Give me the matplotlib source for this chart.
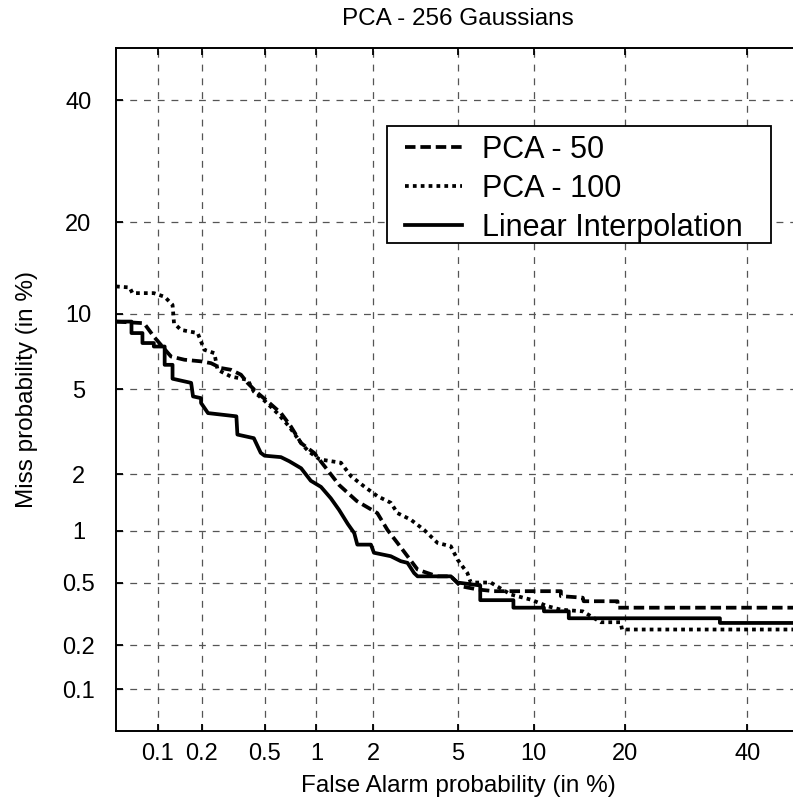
import math
import numpy as np
import matplotlib
matplotlib.use('Agg')
import matplotlib.pyplot as plt
from matplotlib.patches import Rectangle
from matplotlib.ticker import NullLocator

plt.rcParams['font.family'] = ['Liberation Sans', 'DejaVu Sans']

# ---------------- data (percent) ----------------
title = 'PCA - 256 Gaussians'
xlabel = 'False Alarm probability (in %)'
ylabel = 'Miss probability (in %)'
tick_values = [0.1, 0.2, 0.5, 1, 2, 5, 10, 20, 40]
tick_labels = ['0.1', '0.2', '0.5', '1', '2', '5', '10', '20', '40']
axis_limits = [0.05, 50]

series_names = ['PCA - 50', 'PCA - 100', 'Linear Interpolation']

pfa_pca50 = [0.05, 0.08, 0.094, 0.124, 0.153, 0.198, 0.23, 0.267, 0.309, 0.358,
             0.394, 0.454, 0.522, 0.626, 0.715, 0.82, 0.97, 1.15, 1.33, 1.65,
             2.1, 2.36, 2.64, 2.95, 3.29, 3.66, 4.06, 4.65, 5.13, 6.04,
             7.06, 12.5, 12.5, 14.8, 14.9, 19.0, 19.0, 50]
pmiss_pca50 = [9.35, 9.22, 8.2, 6.84, 6.64, 6.54, 6.43, 6.14, 6.04, 5.76,
               5.31, 4.81, 4.42, 3.92, 3.41, 2.84, 2.55, 2.1, 1.76, 1.45,
               1.25, 1.01, 0.854, 0.716, 0.598, 0.57, 0.545, 0.545, 0.475, 0.454,
               0.443, 0.443, 0.413, 0.404, 0.384, 0.384, 0.35, 0.35]

pfa_pca100 = [0.05, 0.063, 0.066, 0.094, 0.112, 0.127, 0.13, 0.145, 0.188, 0.198,
              0.208, 0.242, 0.254, 0.309, 0.394, 0.43, 0.5, 0.6, 0.7, 0.82,
              0.9, 1.04, 1.36, 1.54, 1.80, 2.1, 2.45, 2.64, 3.06, 3.53,
              4.06, 4.65, 4.97, 5.48, 5.66, 6.84, 8.2, 9.76, 11.2, 12.5,
              14.8, 16.9, 19.4, 19.6, 50]
pmiss_pca100 = [12.5, 12.4, 11.85, 11.85, 11.5, 10.77, 9.22, 8.7, 8.46, 7.84,
                7.28, 7.06, 6.04, 5.66, 5.48, 4.88, 4.45, 3.9, 3.4, 2.84,
                2.6, 2.37, 2.28, 1.95, 1.73, 1.54, 1.42, 1.25, 1.15, 1.01,
                0.854, 0.817, 0.685, 0.57, 0.50, 0.50, 0.423, 0.393, 0.358, 0.34,
                0.332, 0.283, 0.283, 0.254, 0.254]

pfa_linear = [0.05, 0.065, 0.065, 0.078, 0.078, 0.094, 0.094, 0.112, 0.112, 0.127,
              0.127, 0.17, 0.175, 0.198, 0.198, 0.22, 0.335, 0.34, 0.43, 0.474,
              0.50, 0.626, 0.70, 0.82, 0.93, 1.06, 1.2, 1.33, 1.48, 1.6,
              1.66, 1.95, 2.02, 2.45, 2.74, 2.95, 3.17, 3.29, 4.65, 4.97,
              6.2, 6.2, 8.4, 8.4, 10.9, 10.9, 13.3, 13.3, 35.0, 35.0, 50]
pmiss_linear = [9.35, 9.35, 8.46, 8.46, 7.74, 7.74, 7.5, 7.5, 6.33, 6.33,
                5.54, 5.32, 4.65, 4.57, 4.35, 3.92, 3.79, 3.12, 3.0, 2.55,
                2.47, 2.43, 2.32, 2.14, 1.85, 1.72, 1.5, 1.3, 1.09, 0.97,
                0.835, 0.835, 0.75, 0.716, 0.67, 0.655, 0.57, 0.545, 0.545, 0.50,
                0.48, 0.39, 0.39, 0.35, 0.35, 0.332, 0.332, 0.30, 0.30, 0.28, 0.28]

# ---------------- normal-deviate (DET) scale ----------------
_A = [-3.969683028665376e+01, 2.209460984245205e+02, -2.759285104469687e+02,
      1.383577518672690e+02, -3.066479806614716e+01, 2.506628277459239e+00]
_B = [-5.447609879822406e+01, 1.615858368580409e+02, -1.556989798598866e+02,
      6.680131188771972e+01, -1.328068155288572e+01]
_C = [-7.784894002430293e-03, -3.223964580411365e-01, -2.400758277161838e+00,
      -2.549732967406918e+00, 4.374664141464968e+00, 2.938163982698783e+00]
_D = [7.784695709041462e-03, 3.224671290700398e-01, 2.445134137142996e+00,
      3.754408661907416e+00]


def _ppf_scalar(p):
    plow = 0.02425
    if p < plow:
        q = math.sqrt(-2 * math.log(p))
        return (((((_C[0]*q+_C[1])*q+_C[2])*q+_C[3])*q+_C[4])*q+_C[5]) / \
               ((((_D[0]*q+_D[1])*q+_D[2])*q+_D[3])*q+1)
    if p <= 1 - plow:
        q = p - 0.5
        r = q * q
        return (((((_A[0]*r+_A[1])*r+_A[2])*r+_A[3])*r+_A[4])*r+_A[5])*q / \
               (((((_B[0]*r+_B[1])*r+_B[2])*r+_B[3])*r+_B[4])*r+1)
    q = math.sqrt(-2 * math.log(1 - p))
    return -(((((_C[0]*q+_C[1])*q+_C[2])*q+_C[3])*q+_C[4])*q+_C[5]) / \
           ((((_D[0]*q+_D[1])*q+_D[2])*q+_D[3])*q+1)


_ppf_vec = np.vectorize(_ppf_scalar, otypes=[float])
_erf_vec = np.vectorize(math.erf, otypes=[float])


def forward(pct):
    p = np.clip(np.asarray(pct, dtype=float) / 100.0, 1e-12, 1 - 1e-12)
    return _ppf_vec(p)


def inverse(z):
    z = np.asarray(z, dtype=float)
    return 50.0 * (1.0 + _erf_vec(z / math.sqrt(2)))


# ---------------- figure ----------------
W, H = 793, 801
fig = plt.figure(figsize=(W / 100, H / 100), dpi=100)
ax_left, ax_top, ax_size_w, ax_size_h = 116, 47.5, 684, 683.5
ax = fig.add_axes([ax_left / W, (H - ax_top - ax_size_h) / H, ax_size_w / W, ax_size_h / H])

ax.set_xscale('function', functions=(forward, inverse))
ax.set_yscale('function', functions=(forward, inverse))
ax.set_xlim(axis_limits)
ax.set_ylim(axis_limits)

lw = 2.7
ax.plot(pfa_pca50, pmiss_pca50, color='k', lw=lw, linestyle=(0, (2.8, 1.3)),
        label=series_names[0], zorder=3)
ax.plot(pfa_pca100, pmiss_pca100, color='k', lw=lw, linestyle=(0, (1.0, 1.1)),
        label=series_names[1], zorder=3)
ax.plot(pfa_linear, pmiss_linear, color='k', lw=lw, linestyle='-',
        label=series_names[2], zorder=3)

ax.set_xticks(tick_values, tick_labels)
ax.set_yticks(tick_values, tick_labels)
ax.xaxis.set_minor_locator(NullLocator())
ax.yaxis.set_minor_locator(NullLocator())

ax.grid(True, color='#555555', linestyle=(0, (5.5, 5.5)), linewidth=0.9)
ax.set_axisbelow(True)

ax.tick_params(axis='both', direction='in', length=5, width=1.3, top=True, right=True,
               labelsize=17, colors='k')
ax.tick_params(axis='x', pad=9)
ax.tick_params(axis='y', pad=27)
plt.setp(ax.get_yticklabels(), ha='center')

for sp in ax.spines.values():
    sp.set_linewidth(1.4)
    sp.set_color('k')

ax.set_title(title, fontsize=17.5, pad=16)
ax.set_xlabel(xlabel, fontsize=17.5)
ax.set_ylabel(ylabel, fontsize=17.5)
ax.xaxis.set_label_coords(0.5, (ax_top + ax_size_h - 775) / ax_size_h)
ax.yaxis.set_label_coords((38 - ax_left) / ax_size_w, 0.5)

# legend box
bx0, by0, bx1, by1 = 386.7, 125.7, 770.7, 243.3
rect = Rectangle(((bx0 - ax_left) / ax_size_w, (ax_top + ax_size_h - by1) / ax_size_h),
                 (bx1 - bx0) / ax_size_w, (by1 - by0) / ax_size_h,
                 transform=ax.transAxes, facecolor='white', edgecolor='k',
                 linewidth=1.3, zorder=4)
ax.add_patch(rect)
leg = ax.legend(loc='upper left',
                bbox_to_anchor=((405 - ax_left) / ax_size_w, (ax_top + ax_size_h - 135) / ax_size_h),
                fontsize=22, frameon=False, borderpad=0, borderaxespad=0,
                handlelength=1.86, handletextpad=0.65, labelspacing=0.29)
leg.set_zorder(5)

fig.savefig('out.png', dpi=100)
